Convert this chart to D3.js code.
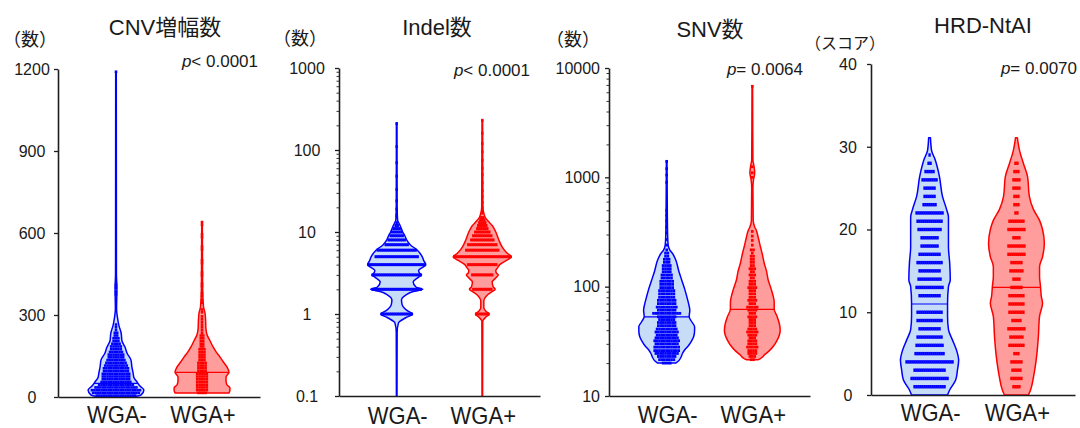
<!DOCTYPE html>
<html>
<head>
<meta charset="utf-8">
<script src="https://cdn.jsdelivr.net/npm/d3@7"></script>
<style>
  body { margin: 0; background: #fff; }
  svg { display: block; }
  text { font-family: "Liberation Sans", Arial, "Noto Sans CJK JP", sans-serif; fill: #1a1a1a; }
</style>
</head>
<body>
<svg id="chart" width="1080" height="428"></svg>
<script>
// ---- labels ----
const groups = ["WGA-", "WGA+"];
const titles = ["CNV増幅数", "Indel数", "SNV数", "HRD-NtAI"];
const unitLabels = ["（数）", "（数）", "（数）", "（スコア）"];
const pSymbols = ["<", "<", "=", "="];
const pValues = ["0.0001", "0.0001", "0.0064", "0.0070"];

// ---- axis ticks ----
const cnvTicks = [0, 300, 600, 900, 1200];
const indelTicks = [0.1, 1, 10, 100, 1000];
const snvTicks = [10, 100, 1000, 10000];
const hrdTicks = [0, 10, 20, 30, 40];

// ---- violin outlines: [value, relative density 0..1] ----
const cnvNegDensity = [[1,.60],[7,.83],[26,.93],[40,.80],[55,.70],[70,.60],[88,.57],[110,.53],[135,.50],[160,.37],[183,.30],[205,.20],[235,.17],[260,.10],[290,.05],[320,.02],[400,.03],[450,.015],[1190,.01]];
const cnvPosDensity = [[15,.90],[25,.93],[33,.93],[45,.83],[60,.80],[73,.80],[85,.87],[91,.90],[110,.83],[130,.70],[146,.60],[165,.47],[183,.37],[205,.27],[227,.17],[250,.13],[280,.12],[307,.10],[330,.05],[400,.02],[640,.01]];

const indelNegDensity = [[0.1,.01],[0.6,.015],[0.78,.06],[0.9,.3],[1.0,.53],[1.1,.35],[1.3,.18],[1.48,.16],[1.7,.3],[1.88,.55],[2.0,.87],[2.12,.65],[2.46,.55],[2.8,.72],[3.0,.83],[3.12,.77],[3.4,.73],[3.7,.86],[4.0,.97],[4.5,.9],[5.0,.85],[6.0,.69],[7.0,.45],[8.0,.33],[9.0,.27],[10,.2],[11.6,.13],[12.9,.07],[14,.03],[20,.015],[214,.01]];
const indelPosDensity = [[0.1,.01],[0.82,.015],[0.92,.12],[1.0,.23],[1.08,.12],[1.2,.05],[1.45,.05],[1.65,.13],[1.85,.3],[2.0,.43],[2.15,.36],[2.45,.33],[2.8,.47],[3.0,.53],[3.15,.47],[3.4,.45],[3.7,.52],[4.0,.58],[4.5,.8],[5.0,.97],[5.5,.83],[6.5,.67],[8,.55],[10,.45],[12,.33],[13.5,.2],[15,.1],[17,.05],[20,.02],[234,.01]];

const snvNegDensity = [[20,.3],[21,.4],[22.5,.47],[24.6,.53],[27,.63],[29,.73],[32,.83],[35,.9],[40,.93],[43,.93],[48,.83],[53,.75],[61,.77],[70,.73],[81,.67],[95,.6],[115,.5],[140,.4],[176,.3],[200,.2],[217,.1],[240,.05],[300,.03],[500,.02],[1410,.01]];
const snvPosDensity = [[21.5,.2],[22,.27],[24,.42],[26,.57],[29,.72],[32.5,.83],[36,.9],[40,.93],[46,.9],[53,.83],[62.5,.73],[72,.73],[81,.7],[95,.63],[115,.53],[140,.47],[163,.4],[200,.33],[232,.27],[280,.2],[330,.13],[352,.08],[400,.03],[800,.02],[950,.04],[1100,.08],[1250,.06],[1450,.02],[6850,.01]];

const hrdNegDensity = [[0,.6],[0.6,.67],[1.8,.87],[3,.93],[4.2,.97],[5.4,.9],[6.6,.77],[7.9,.63],[9.5,.6],[11.1,.6],[13.1,.63],[13.9,.69],[16,.67],[17.9,.63],[20,.63],[21.5,.63],[22.4,.57],[24,.43],[26.4,.33],[28.6,.17],[29.5,.07],[31.1,.03]];
const hrdPosDensity = [[0,.4],[0.6,.47],[2.2,.57],[4.6,.67],[7,.73],[9.5,.77],[11.1,.87],[11.9,.83],[13.2,.8],[14.3,.77],[15.5,.77],[16.7,.87],[18.3,.93],[20,.87],[21.1,.77],[22.4,.57],[24,.43],[26.4,.37],[28,.23],[29.6,.1],[31.1,.03]];

// ---- medians [WGA-, WGA+] ----
const cnvMedians = [50, 90];
const indelMedians = [4, 5];
const snvMedians = [53, 62];
const hrdMedians = [11, 13];

// ---- individual samples, as rows of points: level + number of samples at it ----
const cnvBins = [5,15,25,35,45,55,65,75,85,95,105,115,125,135,145,155,165,175,185,195,205,215,225,235,245,255,265,275,285,295];
const cnvNegCounts = [17,20,21,18,15,13,12,12,12,11,11,10,9,8,7,7,6,5,5,4,3,3,2,2,1,1,1,0,0,0];
const cnvPosCounts = [0,4,5,5,5,5,5,5,5,4,4,4,4,3,3,3,3,3,2,2,2,2,2,1,1,1,1,1,1,1];
const cnvNegOutliers = [375, 385, 400, 410, 1190];
const cnvPosOutliers = [310, 320, 345, 355, 370, 380, 405, 415, 445, 455, 490, 500, 540, 550, 585, 595, 630, 640];

const indelLevels = [1,2,3,4,5,6,7,8,9,10,11,12,13,14,15];
const indelNegCounts = [16,25,25,29,22,20,12,9,7,6,4,2,1,0,0];
const indelPosCounts = [7,10,11,15,29,17,15,12,10,8,6,5,4,3,2];
const indelNegOutliers = [16, 19, 24, 33, 48, 70, 110, 210];
const indelPosOutliers = [17, 18, 20, 23, 27, 32, 40, 50, 60, 75, 95, 120, 160, 230];

const snvBins = [20,21.5,23,24.5,26,28,30,32,34,36,38.5,41,44,47,50,53,57,61,65,70,75,80,86,92,98,105,112,120,128,137,146,156,167,178,190,203,217];
const snvNegCounts = [4,7,8,10,11,11,10,11,10,9,10,9,8,8,7,8,12,8,9,8,8,7,7,7,6,6,6,5,5,4,4,4,3,3,2,2,1];
const snvPosCounts = [0,2,3,4,4,5,4,4,3,4,5,4,3,3,3,4,3,4,5,3,4,3,3,3,4,3,3,2,3,2,3,2,2,2,2,1,2];
const snvNegOutliers = [240, 270, 310, 350, 400, 450, 500, 900, 1050, 1200, 1400];
const snvPosOutliers = [240, 265, 290, 320, 1000, 1100, 1250, 6800];

const hrdScores = [1,2,3,4,5,6,7,8,9,10,11,12,13,14,15,16,17,18,19,20,21,22,23,24,25,26,27,28,29];
const hrdNegCounts = [16,19,16,24,15,14,13,11,13,13,0,11,14,12,11,13,11,9,9,12,13,14,7,6,6,8,5,2,1];
const hrdPosCounts = [4,6,5,6,3,8,7,9,5,8,8,8,6,4,7,6,9,9,4,9,8,2,3,3,4,4,3,2,0];

// ---- drawing ----
const svg = d3.select("#chart");
const strokeColors = ["#0000ff", "#ff0000"];
const fillColors = ["#c6dcf7", "#ff9d9d"];
const widthScale = d3.scaleLinear().domain([0, 1]).range([0, 30]);

const panels = [
  { ticks: cnvTicks, y: d3.scaleLinear().domain([0, 1200]).range([397, 69]), log: false,
    x0: 58, x1: 260, tickX: 32, tickAnchor: "middle", titleX: 165, titleY: 35, unitX: 30, unitY: 46, unitSize: 18,
    pX: 258, pY: 67, labelY: 423,
    densities: [cnvNegDensity, cnvPosDensity], medians: cnvMedians,
    rows: [[cnvBins, cnvNegCounts, cnvNegOutliers], [cnvBins, cnvPosCounts, cnvPosOutliers]],
    dot: { step: 2.4, w: 2.6, h: 2.6 } },
  { ticks: indelTicks, y: d3.scaleLog().domain([0.1, 1000]).range([396, 68]), log: true,
    x0: 339, x1: 540, tickX: 307, tickAnchor: "middle", titleX: 437, titleY: 35, unitX: 300, unitY: 45, unitSize: 18,
    pX: 530, pY: 76, labelY: 424,
    densities: [indelNegDensity, indelPosDensity], medians: indelMedians,
    rows: [[indelLevels, indelNegCounts, indelNegOutliers], [indelLevels, indelPosCounts, indelPosOutliers]],
    dot: { step: 2, w: 2.4, h: 3 } },
  { ticks: snvTicks, y: d3.scaleLog().domain([10, 10000]).range([396, 68]), log: true,
    x0: 609, x1: 810, tickX: 600, tickAnchor: "end", titleX: 710, titleY: 37, unitX: 573, unitY: 46, unitSize: 18,
    pX: 803, pY: 75, labelY: 423,
    densities: [snvNegDensity, snvPosDensity], medians: snvMedians,
    rows: [[snvBins, snvNegCounts, snvNegOutliers], [snvBins, snvPosCounts, snvPosOutliers]],
    dot: { step: 2.4, w: 2.6, h: 2.8 } },
  { ticks: hrdTicks, y: d3.scaleLinear().domain([0, 40]).range([395, 64]), log: false,
    x0: 871, x1: 1075, tickX: 848, tickAnchor: "middle", titleX: 983, titleY: 33, unitX: 845, unitY: 49, unitSize: 16,
    pX: 1077, pY: 74, labelY: 421,
    densities: [hrdNegDensity, hrdPosDensity], medians: hrdMedians,
    rows: [[hrdScores, hrdNegCounts, []], [hrdScores, hrdPosCounts, []]],
    dot: { step: 2, w: 2.4, h: 3.4 } }
];

// density at an arbitrary value, interpolated along the outline in screen space
function densityAt(profile, v, y) {
  const py = y(v);
  for (let i = 0; i < profile.length - 1; i++) {
    const a = y(profile[i][0]), b = y(profile[i + 1][0]);
    if (py <= a && py >= b) {
      const t = a === b ? 0 : (a - py) / (a - b);
      return profile[i][1] + t * (profile[i + 1][1] - profile[i][1]);
    }
  }
  return 0;
}

function drawRow(g, cx, cy, n, dot, color) {
  for (let k = 0; k < n; k++) {
    const off = (k - (n - 1) / 2) * dot.step;
    g.append("rect")
      .attr("x", cx + off - dot.w / 2)
      .attr("y", cy - dot.h / 2)
      .attr("width", dot.w)
      .attr("height", dot.h)
      .attr("fill", color);
  }
}

panels.forEach((p, pi) => {
  const g = svg.append("g");
  const x = d3.scalePoint().domain(groups).range([p.x0, p.x1]).padding(0.674);
  const y = p.y;

  // violins
  groups.forEach((grp, gi) => {
    const cx = x(grp);
    const area = d3.area()
      .y(d => y(d[0]))
      .x0(d => cx - widthScale(d[1]))
      .x1(d => cx + widthScale(d[1]))
      .curve(d3.curveMonotoneY);
    g.append("path")
      .datum(p.densities[gi])
      .attr("d", area)
      .attr("fill", fillColors[gi])
      .attr("stroke", strokeColors[gi])
      .attr("stroke-width", 1.5)
      .attr("stroke-linejoin", "round");

    // sample points
    const [levels, counts, singles] = p.rows[gi];
    const dots = g.append("g");
    levels.forEach((lv, li) => {
      if (counts[li] > 0) drawRow(dots, cx, y(lv), counts[li], p.dot, strokeColors[gi]);
    });
    singles.forEach(v => drawRow(dots, cx, y(v), 1, p.dot, strokeColors[gi]));

    // median line
    const m = p.medians[gi];
    const hw = widthScale(densityAt(p.densities[gi], m, y));
    g.append("line")
      .attr("x1", cx - hw).attr("x2", cx + hw)
      .attr("y1", y(m)).attr("y2", y(m))
      .attr("stroke", strokeColors[gi])
      .attr("stroke-width", 1.2);
  });

  // y axis: major ticks
  const yAxis = g.append("g")
    .attr("transform", `translate(${p.x0},0)`)
    .call(d3.axisLeft(y).tickValues(p.ticks).tickSize(4).tickSizeOuter(0).tickFormat(""));
  if (p.log) {
    const minor = y.ticks().filter(v => !p.ticks.some(t => Math.abs(t - v) < 1e-9));
    g.append("g")
      .attr("transform", `translate(${p.x0},0)`)
      .call(d3.axisLeft(y).tickValues(minor).tickSize(2.5).tickSizeOuter(0).tickFormat(""))
      .call(s => s.select(".domain").remove())
      .selectAll("line").attr("stroke", "#333").attr("stroke-width", 1);
  }
  yAxis.select(".domain").attr("stroke", "#1e1e1e").attr("stroke-width", 1.6);
  yAxis.selectAll(".tick line").attr("stroke", "#1e1e1e").attr("stroke-width", 1.3);

  // y tick labels
  g.selectAll(".ylab")
    .data(p.ticks)
    .join("text")
    .attr("x", p.tickX)
    .attr("y", d => y(d))
    .attr("dy", "0.36em")
    .attr("text-anchor", p.tickAnchor)
    .attr("font-size", 16)
    .text(d => String(d));

  // x axis
  const xAxis = g.append("g")
    .attr("transform", `translate(0,${y.range()[0]})`)
    .call(d3.axisBottom(x).tickSize(0).tickSizeOuter(0).tickFormat(""));
  xAxis.select(".domain").attr("stroke", "#1e1e1e").attr("stroke-width", 1.6);

  // x labels
  groups.forEach(grp => {
    g.append("text")
      .attr("transform", `translate(${x(grp) + 1},${p.labelY}) scale(1,1.12)`)
      .attr("text-anchor", "middle")
      .attr("font-size", 22)
      .text(grp);
  });

  // title, unit and p value
  g.append("text")
    .attr("x", p.titleX).attr("y", p.titleY)
    .attr("text-anchor", "middle")
    .attr("font-size", 22)
    .text(titles[pi]);

  g.append("text")
    .attr("x", p.unitX).attr("y", p.unitY)
    .attr("text-anchor", "middle")
    .attr("font-family", "'Noto Sans CJK JP', sans-serif")
    .attr("font-size", p.unitSize)
    .text(unitLabels[pi]);

  const pt = g.append("text")
    .attr("x", p.pX).attr("y", p.pY)
    .attr("text-anchor", "end")
    .attr("font-size", 17);
  pt.append("tspan").attr("font-style", "italic").text("p");
  pt.append("tspan").text(pSymbols[pi] + " " + pValues[pi]);
});
</script>
</body>
</html>
